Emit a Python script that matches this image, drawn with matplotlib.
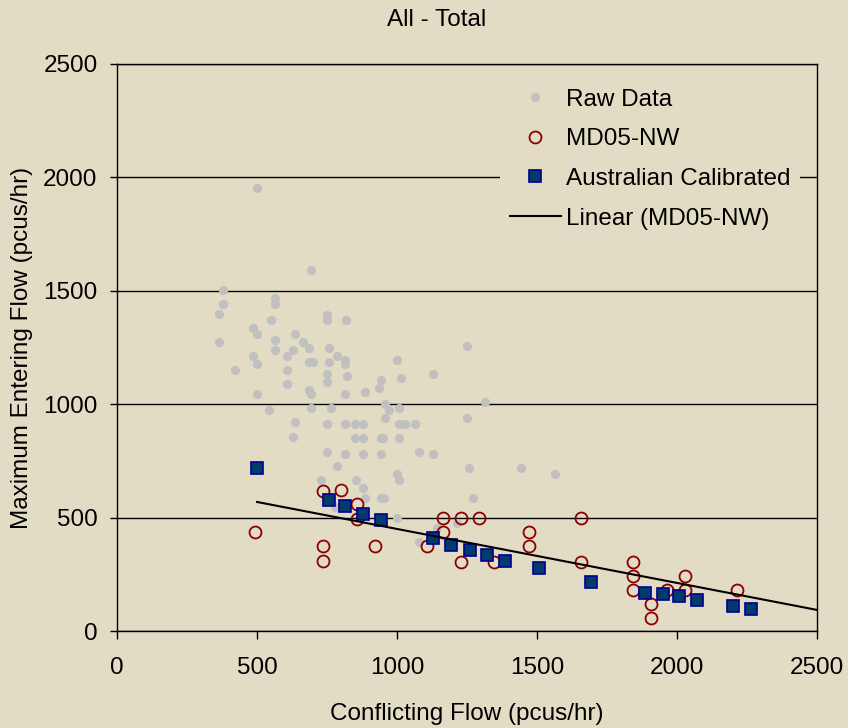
import matplotlib
matplotlib.use("Agg")
import matplotlib.pyplot as plt
import numpy as np

plt.rcParams['font.family'] = ['Liberation Sans', 'DejaVu Sans']

title = "All - Total"
x_label = "Conflicting Flow (pcus/hr)"
y_label = "Maximum Entering Flow (pcus/hr)"
x_ticks = [0, 500, 1000, 1500, 2000, 2500]
y_ticks = [0, 500, 1000, 1500, 2000, 2500]

raw_x = [500, 693, 380, 380, 364, 364, 487, 501, 487, 501, 423, 500, 544, 565, 565,
         551, 565, 565, 637, 630, 608, 608, 608, 665, 687, 687, 701, 687, 694, 694,
         636, 630, 751, 751, 819, 758, 758, 787, 815, 815, 751, 822, 751, 815, 765,
         751, 815, 851, 880, 851, 880, 751, 815, 880, 787, 729, 852, 880, 887, 887,
         937, 943, 1001, 1014, 958, 973, 1008, 958, 1008, 1030, 1065, 943, 950, 1007, 943,
         1080, 1130, 1000, 1007, 943, 955, 1000, 1130, 1251, 1251, 1315, 1257, 1272, 1443, 1564,
         1080, 1142, 1214, 778]
raw_y = [1952, 1590, 1502, 1440, 1396, 1273, 1335, 1308, 1211, 1176, 1149, 1044, 973, 1467, 1440,
         1370, 1282, 1238, 1308, 1238, 1211, 1149, 1088, 1273, 1247, 1185, 1185, 1061, 1044, 982,
         920, 854, 1391, 1373, 1373, 1247, 1185, 1211, 1194, 1176, 1132, 1123, 1097, 1044, 982,
         911, 911, 911, 911, 850, 850, 788, 779, 779, 726, 666, 664, 629, 585, 1052,
         1070, 1105, 1194, 1114, 1000, 973, 982, 938, 911, 911, 911, 850, 850, 850, 779,
         788, 779, 694, 666, 585, 585, 497, 1132, 1255, 938, 1008, 717, 585, 717, 691,
         391, 455, 477, 545]

md05_x = [493, 736, 800, 857, 857, 736, 736, 921, 1107, 1164, 1164, 1229, 1293, 1229,
          1347, 1471, 1471, 1657, 1657, 1843, 1843, 1843, 1907, 1907, 1964, 2029, 2029, 2215]
md05_y = [435, 619, 620, 560, 496, 373, 309, 373, 373, 497, 437, 497, 497, 304,
          303, 435, 373, 497, 303, 303, 241, 179, 118, 57, 179, 241, 179, 179]

aus_x = [500, 758, 815, 880, 944, 1130, 1194, 1260, 1322, 1387, 1507, 1693, 1887, 1951,
         2008, 2072, 2201, 2264]
aus_y = [717, 576, 550, 516, 488, 409, 381, 356, 336, 310, 276, 215, 169, 162,
         153, 135, 109, 98]

# Linear trend of MD05-NW
trend_intercept = 688.0
trend_slope = -0.238
trend_range = [500, 2500]

bg = '#E3DCC4'
fs = 17.5
fig = plt.figure(figsize=(8.48, 7.28), dpi=100, facecolor=bg)
ax = fig.add_axes([0.138, 0.1332, 0.8255, 0.779])
ax.set_facecolor(bg)

ax.plot(raw_x, raw_y, linestyle='none', marker='o', markersize=6.6,
        color='#C0C0C0', markeredgewidth=0, label='Raw Data', zorder=3)
ax.plot(md05_x, md05_y, linestyle='none', marker='o', markersize=8.6,
        markerfacecolor='none', markeredgecolor='#8B0000', markeredgewidth=1.3,
        label='MD05-NW', zorder=4)
ax.plot(aus_x, aus_y, linestyle='none', marker='s', markersize=9.0,
        markerfacecolor='#003B6B', markeredgecolor='#000090', markeredgewidth=1.2,
        label='Australian Calibrated', zorder=5)
tx = np.array(trend_range, dtype=float)
ax.plot(tx, trend_intercept + trend_slope * tx, color='black', linewidth=1.5,
        label='Linear (MD05-NW)', zorder=6)

ax.set_xlim(0, 2500)
ax.set_ylim(0, 2500)
ax.set_xticks(x_ticks)
ax.set_yticks(y_ticks)
ax.yaxis.grid(True, color='black', linewidth=1.0)
ax.set_axisbelow(True)
for s in ax.spines.values():
    s.set_color('black')
    s.set_linewidth(1.0)
ax.tick_params(axis='x', direction='out', length=6, width=1, pad=13, labelsize=fs)
ax.tick_params(axis='y', direction='out', length=5, width=1, pad=9, labelsize=fs)
ax.set_xlabel(x_label, fontsize=fs, labelpad=17)
ax.set_ylabel(y_label, fontsize=fs, labelpad=7)
fig.text(0.515, 0.973, title, ha='center', va='center', fontsize=fs)

leg = ax.legend(loc='upper left', bbox_to_anchor=(0.547, 0.973), frameon=True,
                fontsize=fs, handlelength=2.1, handletextpad=0.2, labelspacing=0.72,
                borderpad=0.4, numpoints=1, borderaxespad=0)
leg.get_frame().set_facecolor(bg)
leg.get_frame().set_edgecolor('none')
leg.get_frame().set_alpha(1)

fig.savefig('out.png', dpi=100, facecolor=bg)
